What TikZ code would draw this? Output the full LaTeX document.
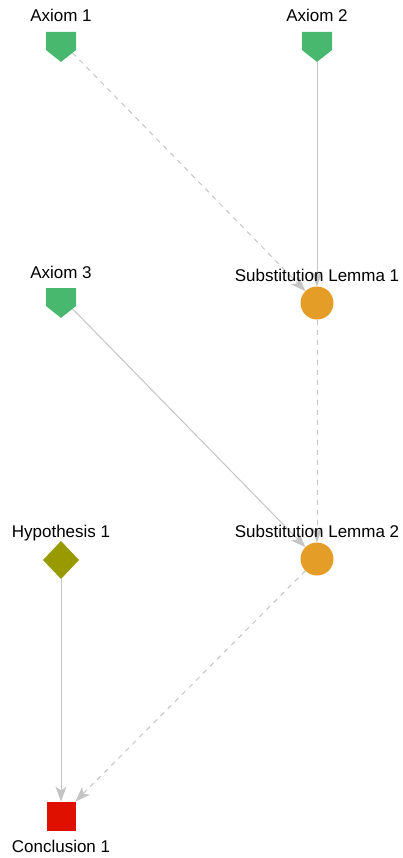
\documentclass[tikz,border=0pt]{standalone}
\usepackage{fontspec}
\setmainfont{Liberation Sans}
\usetikzlibrary{positioning,arrows.meta,backgrounds,shapes.geometric,shapes.symbols}
\definecolor{pfGreen}{RGB}{72,184,110}
\definecolor{pfOrange}{RGB}{228,157,39}
\definecolor{pfOlive}{RGB}{153,153,0}
\definecolor{pfRed}{RGB}{224,16,0}
\definecolor{pfEdge}{RGB}{196,196,196}
\tikzset{
    base/.style={inner sep=0pt, outer sep=0pt},
    axiom/.style={base, signal, signal to=south, signal from=nowhere,
                  signal pointer angle=103, minimum width=30pt, minimum height=18pt,
                  fill=pfGreen},
    lemma/.style={base, circle, minimum size=33pt, fill=pfOrange},
    hypo/.style={base, diamond, minimum width=36pt, minimum height=38pt, fill=pfOlive},
    concl/.style={base, rectangle, minimum size=29pt, fill=pfRed},
    tag/.style={font=\fontsize{17}{20}\selectfont, anchor=base, inner sep=0pt},
    flow/.style={-{Stealth[length=15pt, width=11pt, inset=4pt]}, line width=1pt, color=pfEdge},
    weak/.style={flow, dash pattern=on 5pt off 5pt}
}

\begin{document}
\begin{tikzpicture}[x=1pt, y=-1pt]
  \useasboundingbox (0,0) rectangle (403,858);
  % Proof nodes
  \node[axiom] (a1) at (61,41) {};
  \node[axiom] (a2) at (317,41) {};
  \node[axiom] (a3) at (61,297) {};
  \node[lemma] (l1) at (317,303) {};
  \node[hypo]  (h1) at (61,560) {};
  \node[lemma] (l2) at (317,559) {};
  \node[concl] (c1) at (61,816) {};

  % Labels
  \node[tag] (a1t) at ([yshift=19pt]a1.center) {Axiom 1};
  \node[tag] (a2t) at ([yshift=19pt]a2.center) {Axiom 2};
  \node[tag] (a3t) at ([yshift=19pt]a3.center) {Axiom 3};
  \node[tag] (l1t) at ([yshift=22pt]l1.center) {Substitution Lemma 1};
  \node[tag] (h1t) at ([yshift=23pt]h1.center) {Hypothesis 1};
  \node[tag] (l2t) at ([yshift=22pt]l2.center) {Substitution Lemma 2};
  \node[tag] (c1t) at ([yshift=-36pt]c1.center) {Conclusion 1};

  % Inferences
  \begin{scope}[on background layer]
  \draw[weak] (a1) -- (l1);
  \draw[flow] (a2) -- (l1);
  \draw[flow] (a3) -- (l2);
  \draw[weak] (l1) -- (l2);
  \draw[flow] (h1) -- (c1);
  \draw[weak] (l2) -- (c1);
  \end{scope}
\end{tikzpicture}
\end{document}
